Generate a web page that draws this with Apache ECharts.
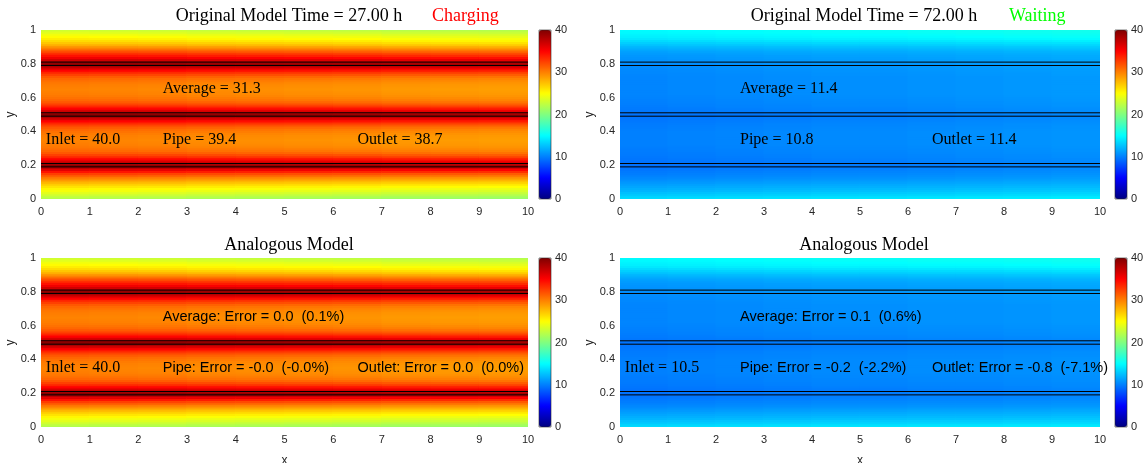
<!DOCTYPE html>
<html><head><meta charset="utf-8">
<script src="https://cdn.jsdelivr.net/npm/echarts@6/dist/echarts.min.js"></script>
<style>html,body{margin:0;padding:0;background:#fff}#c{width:1146px;height:463px}</style>
</head><body><div id="c"></div>
<script>
// ---------------- data ----------------
const yLevels = [0,0.0125,0.025,0.0375,0.05,0.0625,0.075,0.0875,0.1,0.1125,0.125,0.1375,0.15,0.1625,0.175,0.1875,0.2,0.2125,0.225,0.2375,0.25,0.2625,0.275,0.2875,0.3,0.3125,0.325,0.3375,0.35,0.3625,0.375,0.3875,0.4,0.4125,0.425,0.4375,0.45,0.4625,0.475,0.4875,0.5,0.5125,0.525,0.5375,0.55,0.5625,0.575,0.5875,0.6,0.6125,0.625,0.6375,0.65,0.6625,0.675,0.6875,0.7,0.7125,0.725,0.7375,0.75,0.7625,0.775,0.7875,0.8,0.8125,0.825,0.8375,0.85,0.8625,0.875,0.8875,0.9,0.9125,0.925,0.9375,0.95,0.9625,0.975,0.9875,1];
const xCols = [0.5,1.5,2.5,3.5,4.5,5.5,6.5,7.5,8.5,9.5];

// temperature profiles across y (one per panel), bottom -> top
const profChargeOrig = [21,21.8,22.5,23.3,24,24.7,25.5,26.4,27.3,28.4,29.5,30.7,32,33.7,35.5,37.5,39,37.6,36,34.4,33,31.9,31,30.4,30,29.7,29.5,29.4,29.3,29.4,29.5,29.7,30,30.4,31,31.9,33,34.4,36,37.6,39,37.6,36,34.4,33,31.9,31,30.4,30,29.7,29.5,29.4,29.3,29.4,29.5,29.7,30,30.4,31,31.9,33,34.4,36,37.6,39,37.7,36.3,35,33.8,32.6,31.4,30.1,28.8,27.6,26.6,25.8,25.1,24.5,23.9,23.2,22.5];
const profChargeAnalog = [21,21.8,22.5,23.3,24,24.7,25.5,26.4,27.3,28.4,29.5,30.7,32,33.7,35.5,37.5,39,37.6,36,34.4,33,31.9,31,30.4,30,29.7,29.5,29.4,29.3,29.4,29.5,29.7,30,30.4,31,31.9,33,34.4,36,37.6,39,37.6,36,34.4,33,31.9,31,30.4,30,29.7,29.5,29.4,29.3,29.4,29.5,29.7,30,30.4,31,31.9,33,34.4,36,37.6,39,37.7,36.3,35,33.8,32.6,31.4,30.1,28.8,27.6,26.6,25.8,25.1,24.5,23.9,23.2,22.5];
const profWaitOrig = [14.3,13.8,13.3,12.9,12.5,12.2,11.9,11.6,11.3,11,10.7,10.5,10.3,10.15,10,9.9,9.8,9.85,9.9,10,10.1,10.15,10.2,10.25,10.3,10.35,10.4,10.4,10.4,10.4,10.4,10.4,10.4,10.35,10.3,10.25,10.2,10.1,10,9.95,9.9,10,10.1,10.2,10.3,10.35,10.4,10.45,10.5,10.55,10.6,10.6,10.6,10.6,10.6,10.6,10.6,10.6,10.6,10.65,10.7,10.75,10.8,10.85,10.9,11,11.1,11.2,11.3,11.5,11.7,12.1,12.5,13,13.5,14,14.5,14.8,15,15.2,15.3];
const profWaitAnalog = [14.3,13.8,13.3,12.9,12.5,12.2,11.9,11.6,11.3,11,10.7,10.5,10.3,10.15,10,9.9,9.8,9.85,9.9,10,10.1,10.15,10.2,10.25,10.3,10.35,10.4,10.4,10.4,10.4,10.4,10.4,10.4,10.35,10.3,10.25,10.2,10.1,10,9.95,9.9,10,10.1,10.2,10.3,10.35,10.4,10.45,10.5,10.55,10.6,10.6,10.6,10.6,10.6,10.6,10.6,10.6,10.6,10.65,10.7,10.75,10.8,10.85,10.9,11,11.1,11.2,11.3,11.5,11.7,12.1,12.5,13,13.5,14,14.5,14.8,15,15.2,15.3];
// change along x (inlet -> outlet), one value per column
const xShiftChargeOrig = [0.6,0.5,0.4,0.2,0.1,0,-0.1,-0.3,-0.4,-0.5];
const xShiftChargeAnalog = [0.6,0.5,0.4,0.2,0.1,0,-0.1,-0.3,-0.4,-0.5];
const xShiftWaitOrig = [-0.4,-0.3,-0.2,-0.1,0,0,0.1,0.2,0.3,0.4];
const xShiftWaitAnalog = [-0.4,-0.3,-0.2,-0.1,0,0,0.1,0.1,0.2,0.3];

const pipeEdges = [0.19,0.21,0.49,0.51,0.79,0.81];
const xTicks = [0,10,1];     // min, max, interval
const yTicks = [0,1,0.2];
const cbTicks = [0,40,10];

const titlesTop = ['Original Model Time = 27.00 h','Original Model Time = 72.00 h'];
const statusTop = ['Charging','Waiting'];
const titlesBottom = ['Analogous Model','Analogous Model'];

const annTL = [['Inlet = 40.0',0.1,0.35,'serif'],['Average = 31.3',2.5,0.65,'serif'],['Pipe = 39.4',2.5,0.35,'serif'],['Outlet = 38.7',6.5,0.35,'serif']];
const annTR = [['Average = 11.4',2.5,0.65,'serif'],['Pipe = 10.8',2.5,0.35,'serif'],['Outlet = 11.4',6.5,0.35,'serif']];
const annBL = [['Inlet = 40.0',0.1,0.35,'serif'],['Average: Error = 0.0  (0.1%)',2.5,0.65,'sans'],['Pipe: Error = -0.0  (-0.0%)',2.5,0.35,'sans'],['Outlet: Error = 0.0  (0.0%)',6.5,0.35,'sans']];
const annBR = [['Inlet = 10.5',0.1,0.35,'serif'],['Average: Error = 0.1  (0.6%)',2.5,0.65,'sans'],['Pipe: Error = -0.2  (-2.2%)',2.5,0.35,'sans'],['Outlet: Error = -0.8  (-7.1%)',6.5,0.35,'sans']];

// ---------------- style / layout ----------------
const jet = ['#000080','#0000FF','#0080FF','#00FFFF','#80FF80','#FFFF00','#FF8000','#FF0000','#800000'];
const SERIF = '"Liberation Serif", "DejaVu Serif", serif';
const SANS = '"Liberation Sans", Arial, sans-serif';
const tickColor = '#262626';
const panels = [
  {left:41, top:30, width:487, height:169, cb:539, prof:profChargeOrig, shift:xShiftChargeOrig, ann:annTL},
  {left:620, top:30, width:480, height:169, cb:1115, prof:profWaitOrig, shift:xShiftWaitOrig, ann:annTR},
  {left:41, top:258, width:487, height:169, cb:539, prof:profChargeAnalog, shift:xShiftChargeAnalog, ann:annBL},
  {left:620, top:258, width:480, height:169, cb:1115, prof:profWaitAnalog, shift:xShiftWaitAnalog, ann:annBR}
];
const cbWidth = 12;
const dyCell = yLevels[1]-yLevels[0];
const dxCell = xCols[1]-xCols[0];

const grids=[], xAxes=[], yAxes=[], series=[], visualMaps=[];
panels.forEach((p,i)=>{
  grids.push({left:p.left, top:p.top, width:p.width, height:p.height, containLabel:false, outerBoundsMode:'none'});
  xAxes.push({type:'value', gridIndex:i, min:xTicks[0], max:xTicks[1], interval:xTicks[2],
    axisLine:{show:false}, axisTick:{show:false}, splitLine:{show:false},
    axisLabel:{fontSize:11, color:tickColor, margin:7, fontFamily:SANS},
    name: i>=2 ? 'x' : '', nameLocation:'middle', nameGap:28,
    nameTextStyle:{fontSize:12, color:tickColor, fontFamily:SANS}});
  yAxes.push({type:'value', gridIndex:i, min:yTicks[0], max:yTicks[1], interval:yTicks[2],
    axisLine:{show:false}, axisTick:{show:false}, splitLine:{show:false},
    axisLabel:{fontSize:11, color:tickColor, margin:5, fontFamily:SANS},
    name:'y', nameLocation:'middle', nameGap:22,
    nameTextStyle:{fontSize:12, color:tickColor, fontFamily:SANS}});
});
panels.forEach((p,i)=>{
  grids.push({left:p.cb, top:p.top, width:cbWidth, height:p.height, show:true, borderColor:'#262626', borderWidth:0.6, backgroundColor:'transparent', z:5, containLabel:false, outerBoundsMode:'none'});
  xAxes.push({type:'value', gridIndex:4+i, min:0, max:1, show:false});
  yAxes.push({type:'value', gridIndex:4+i, position:'right', min:cbTicks[0], max:cbTicks[1], interval:cbTicks[2],
    axisLine:{show:false}, axisTick:{show:false}, splitLine:{show:false},
    axisLabel:{fontSize:11, color:tickColor, margin:4, fontFamily:SANS}});
});

// heat cells
panels.forEach((p,i)=>{
  const data=[];
  xCols.forEach((xc,ci)=>{ yLevels.forEach((yl,ri)=>{ data.push([xc, yl, p.prof[ri] + p.shift[ci]]); }); });
  series.push({type:'custom', xAxisIndex:i, yAxisIndex:i, silent:true, z:1,
    encode:{x:0, y:1}, data:data,
    renderItem:function(params, api){
      const x=api.value(0), y=api.value(1);
      const a=api.coord([x-dxCell/2, Math.max(yTicks[0], y-dyCell/2)]);
      const b=api.coord([x+dxCell/2, Math.min(yTicks[1], y+dyCell/2)]);
      const rect={x:a[0]-0.5, y:b[1]-0.5, width:b[0]-a[0]+1, height:a[1]-b[1]+1};
      const cs=params.coordSys;
      const c=echarts.graphic.clipRectByRect(rect,{x:cs.x,y:cs.y,width:cs.width,height:cs.height});
      if(!c) return;
      return {type:'rect', shape:c, style:{fill:api.visual('color')}};
    }});
  visualMaps.push({type:'continuous', seriesIndex:i, dimension:2, min:cbTicks[0], max:cbTicks[1],
    inRange:{color:jet}, calculable:false, show:true, left:p.cb, top:p.top,
    itemWidth:cbWidth, itemHeight:p.height, padding:0, text:null, hoverLink:false, align:'left'});
});
// pipe walls
panels.forEach((p,i)=>{
  pipeEdges.forEach(e=>{
    series.push({type:'line', xAxisIndex:i, yAxisIndex:i, silent:true, z:3, symbol:'none',
      lineStyle:{color:'#000', width:1}, data:[[xTicks[0],e],[xTicks[1],e]], animation:false});
  });
});
// annotations
panels.forEach((p,i)=>{
  const ann=p.ann;
  series.push({type:'custom', xAxisIndex:i, yAxisIndex:i, silent:true, z:4, clip:false,
    encode:{x:0,y:1}, data:ann.map(a=>[a[1],a[2]]),
    renderItem:function(params, api){
      const pt=api.coord([api.value(0), api.value(1)]);
      const a=ann[params.dataIndex];
      const serif=a[3]==='serif';
      return {type:'text', x:pt[0], y:pt[1], style:{text:a[0], fill:'#000',
        fontFamily: serif?SERIF:SANS, fontSize: serif?16:14.5, align:'left', verticalAlign:'middle'}};
    }});
});

const titleStyle={fontFamily:SERIF, fontSize:18, fontWeight:'normal', color:'#000'};
const titles=[
  {text:titlesTop[0], left:284, top:2, textAlign:'center', textStyle:titleStyle},
  {text:statusTop[0], left:427, top:2, textStyle:Object.assign({},titleStyle,{color:'#FF0000'})},
  {text:titlesTop[1], left:859, top:2, textAlign:'center', textStyle:titleStyle},
  {text:statusTop[1], left:1004, top:2, textStyle:Object.assign({},titleStyle,{color:'#00FF00'})},
  {text:titlesBottom[0], left:284, top:231, textAlign:'center', textStyle:titleStyle},
  {text:titlesBottom[1], left:859, top:231, textAlign:'center', textStyle:titleStyle}
];

const chart=echarts.init(document.getElementById('c'),null,{renderer:'canvas'});
chart.setOption({animation:false, backgroundColor:'#fff', title:titles, grid:grids, xAxis:xAxes, yAxis:yAxes, visualMap:visualMaps, series:series});
</script></body></html>
